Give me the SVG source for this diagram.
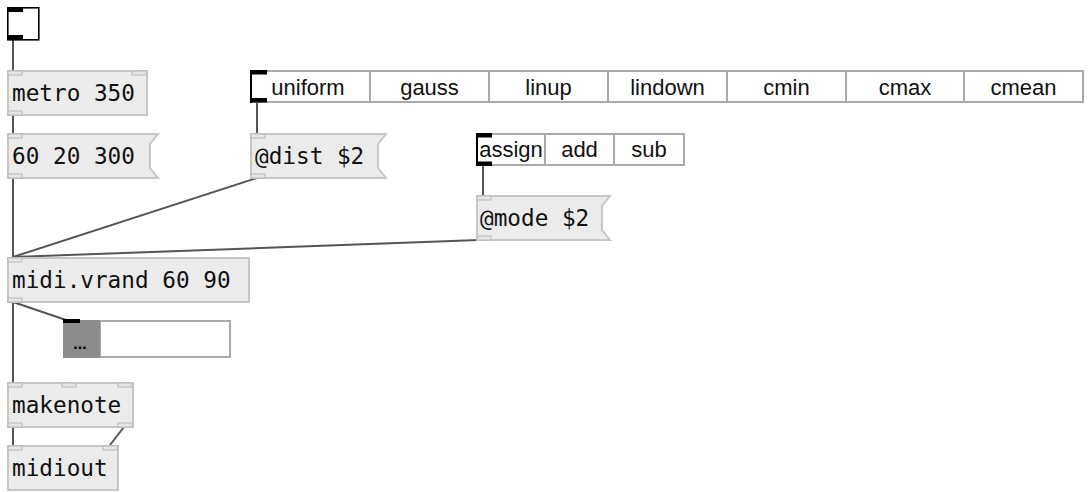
<svg xmlns="http://www.w3.org/2000/svg" width="1088" height="492" viewBox="0 0 1088 492">
<style>
.obj{fill:#ebebeb;stroke:#c6c6c6;stroke-width:2}
.io{fill:#e6e6e6;stroke:#b8b8b8;stroke-width:1}
.blk{fill:#000}
.mono{font-family:"DejaVu Sans Mono","Liberation Mono",monospace;font-size:22.7px;fill:#111}
.sans{font-family:"Liberation Sans",Arial,sans-serif;font-size:22px;fill:#111;text-anchor:middle}
.cell{fill:#fff;stroke:#aaa;stroke-width:2}
.wire{stroke:#555;stroke-width:2;fill:none}
</style>
<rect width="1088" height="492" fill="#fff"/>
<g id="connectors">
<line class="wire" x1="13" y1="40" x2="13" y2="70"/>
<line class="wire" x1="13" y1="115" x2="13" y2="133"/>
<line class="wire" x1="13" y1="178" x2="13" y2="257"/>
<line class="wire" x1="257" y1="102" x2="257" y2="133"/>
<line class="wire" x1="257" y1="178" x2="13" y2="257"/>
<line class="wire" x1="483" y1="166" x2="483" y2="195"/>
<line class="wire" x1="479" y1="240" x2="13" y2="257"/>
<line class="wire" x1="13" y1="302" x2="13" y2="382"/>
<line class="wire" x1="13" y1="302" x2="66" y2="320"/>
<line class="wire" x1="13" y1="427" x2="13" y2="445"/>
<line class="wire" x1="124" y1="427" x2="110" y2="445"/>
</g>
<g id="toggle">
<rect x="7.8" y="7.8" width="31" height="32" fill="#fff" stroke="#000" stroke-width="1.6"/>
<rect class="blk" x="7" y="7" width="16" height="5"/>
<rect class="blk" x="7" y="35" width="16" height="5"/>
</g>
<g id="metro">
<rect class="obj" x="8" y="71" width="139" height="44"/>
<rect class="io" x="8" y="71" width="14" height="4"/>
<rect class="io" x="132" y="71" width="14" height="4"/>
<rect class="io" x="8" y="111" width="14" height="4"/>
<text class="mono" x="12" y="101">metro 350</text>
</g>
<g id="msg1">
<path class="obj" d="M8,134 H158 L150,144 V168 L158,178 H8 Z"/>
<rect class="io" x="8" y="134" width="14" height="4"/>
<rect class="io" x="8" y="174" width="14" height="4"/>
<text class="mono" x="12" y="164">60 20 300</text>
</g>
<g id="radio-dist">
<rect class="cell" x="251" y="71" width="119" height="31"/>
<rect class="cell" x="370" y="71" width="119" height="31"/>
<rect class="cell" x="489" y="71" width="119" height="31"/>
<rect class="cell" x="608" y="71" width="119" height="31"/>
<rect class="cell" x="727" y="71" width="119" height="31"/>
<rect class="cell" x="846" y="71" width="118" height="31"/>
<rect class="cell" x="964" y="71" width="119" height="31"/>
<rect class="blk" x="250" y="70" width="2" height="33"/>
<rect class="blk" x="250" y="70" width="17" height="4.5"/>
<rect class="blk" x="250" y="98" width="17" height="4.5"/>
<text class="sans" x="308" y="95">uniform</text>
<text class="sans" x="429.5" y="95">gauss</text>
<text class="sans" x="548.5" y="95">linup</text>
<text class="sans" x="667.5" y="95">lindown</text>
<text class="sans" x="786.5" y="95">cmin</text>
<text class="sans" x="905" y="95">cmax</text>
<text class="sans" x="1023.5" y="95">cmean</text>
</g>
<g id="msg-dist">
<path class="obj" d="M251,134 H386 L378,144 V168 L386,178 H251 Z"/>
<rect class="io" x="251" y="134" width="14" height="4"/>
<rect class="io" x="251" y="174" width="14" height="4"/>
<text class="mono" x="255" y="164">@dist $2</text>
</g>
<g id="radio-mode">
<rect class="cell" x="477" y="134" width="68" height="31"/>
<rect class="cell" x="545" y="134" width="69" height="31"/>
<rect class="cell" x="614" y="134" width="70" height="31"/>
<rect class="blk" x="476" y="133" width="2" height="33"/>
<rect class="blk" x="476" y="133" width="16" height="4.5"/>
<rect class="blk" x="476" y="161.5" width="16" height="4.5"/>
<text class="sans" x="511" y="157">assign</text>
<text class="sans" x="579.5" y="157">add</text>
<text class="sans" x="649" y="157">sub</text>
</g>
<g id="msg-mode">
<path class="obj" d="M477,196 H610 L602,206 V230 L610,240 H477 Z"/>
<rect class="io" x="477" y="196" width="14" height="4"/>
<rect class="io" x="477" y="236" width="14" height="4"/>
<text class="mono" x="480" y="226">@mode $2</text>
</g>
<g id="vrand">
<rect class="obj" x="8" y="258" width="241" height="44"/>
<rect class="io" x="8" y="258" width="14" height="4"/>
<rect class="io" x="8" y="298" width="14" height="4"/>
<text class="mono" x="12" y="288">midi.vrand 60 90</text>
</g>
<g id="display">
<rect x="100" y="321" width="130" height="36" fill="#fff" stroke="#aaa" stroke-width="2"/>
<rect x="63" y="320" width="37" height="38" fill="#8c8c8c"/>
<rect class="blk" x="63" y="319" width="17" height="4"/>
<text x="80" y="349" font-family="'Liberation Sans',Arial,sans-serif" font-size="16" font-weight="bold" fill="#000" text-anchor="middle">...</text>
</g>
<g id="makenote">
<rect class="obj" x="8" y="383" width="125" height="44"/>
<rect class="io" x="8" y="383" width="14" height="4"/>
<rect class="io" x="62" y="383" width="14" height="4"/>
<rect class="io" x="118" y="383" width="14" height="4"/>
<rect class="io" x="8" y="423" width="14" height="4"/>
<rect class="io" x="118" y="423" width="14" height="4"/>
<text class="mono" x="12" y="413">makenote</text>
</g>
<g id="midiout">
<rect class="obj" x="8" y="446" width="110" height="44"/>
<rect class="io" x="8" y="446" width="14" height="4"/>
<rect class="io" x="103" y="446" width="14" height="4"/>
<text class="mono" x="12" y="476">midiout</text>
</g>
</svg>
